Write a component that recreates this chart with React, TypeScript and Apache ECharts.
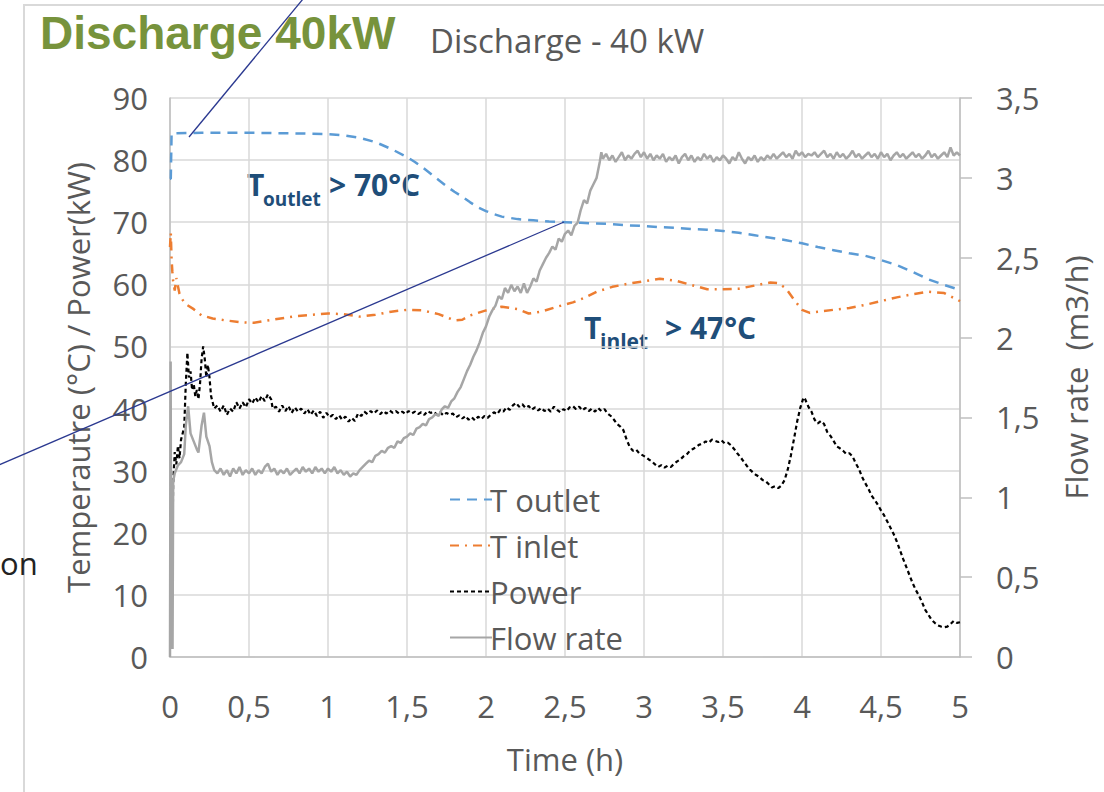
import React, { useEffect, useRef } from "react";
import * as echarts from "echarts";

const seriesNames = ["T outlet", "T inlet", "Power", "Flow rate"];

const outletData: [number, number][] = [
  [0.0, 77], [0.005, 77], [0.01, 84.3], [0.2, 84.4], [0.5, 84.4], [0.8, 84.3], [1.0, 84.2], [1.1, 84.0],
  [1.2, 83.6], [1.3, 82.9], [1.4, 81.8], [1.5, 80.5], [1.55, 79.7], [1.6, 78.8], [1.65, 77.8], [1.7, 76.8],
  [1.75, 75.8], [1.8, 74.9], [1.85, 74.1], [1.9, 73.2], [1.95, 72.4], [2.0, 71.8], [2.05, 71.3], [2.1, 70.9],
  [2.2, 70.5], [2.3, 70.3], [2.4, 70.1], [2.5, 70.0], [2.6, 69.9], [2.7, 69.8], [2.8, 69.7], [2.9, 69.5],
  [3.0, 69.4], [3.1, 69.2], [3.2, 69.1], [3.3, 68.9], [3.4, 68.8], [3.5, 68.6], [3.6, 68.3], [3.7, 67.9],
  [3.8, 67.5], [3.9, 67.1], [4.0, 66.6], [4.1, 66.0], [4.2, 65.5], [4.3, 65.0], [4.4, 64.6], [4.5, 63.9],
  [4.6, 63.1], [4.7, 62.0], [4.8, 60.8], [4.9, 59.9], [5.0, 59.1],
];

const inletData: [number, number][] = [
  [0.0, 66], [0.005, 68.3], [0.01, 64], [0.015, 62], [0.02, 60.5], [0.03, 59], [0.04, 61], [0.06, 58.5],
  [0.08, 57.5], [0.1, 56.8], [0.15, 56], [0.2, 55], [0.27, 54.5], [0.35, 54.2], [0.45, 53.9], [0.53, 53.8],
  [0.6, 54.1], [0.7, 54.5], [0.8, 54.9], [0.9, 55.1], [1.0, 55.3], [1.1, 55.2], [1.2, 54.8], [1.3, 55.1],
  [1.4, 55.6], [1.5, 55.9], [1.6, 55.8], [1.7, 55.2], [1.8, 54.2], [1.85, 54.3], [1.9, 55], [2.0, 55.8],
  [2.1, 56.4], [2.2, 56], [2.27, 55.3], [2.35, 55.6], [2.45, 56.4], [2.55, 57.1], [2.62, 57.8], [2.7, 58.8],
  [2.8, 59.6], [2.9, 60.1], [3.0, 60.5], [3.1, 60.9], [3.2, 60.6], [3.3, 59.9], [3.4, 59.2], [3.5, 59.2],
  [3.6, 59.3], [3.7, 59.8], [3.8, 60.3], [3.85, 60.2], [3.9, 59.3], [3.95, 57.5], [4.0, 55.9], [4.05, 55.4],
  [4.1, 55.6], [4.2, 55.9], [4.3, 56.2], [4.4, 56.7], [4.5, 57.3], [4.6, 57.9], [4.7, 58.4], [4.8, 58.8],
  [4.9, 58.6], [5.0, 57.3],
];

const powerData: [number, number][] = [
  [0.015, 18], [0.02, 28], [0.03, 33], [0.04, 31], [0.05, 34], [0.06, 32], [0.07, 35], [0.08, 36], [0.09, 37],
  [0.1, 44], [0.11, 49], [0.12, 45], [0.13, 46], [0.14, 43], [0.15, 44], [0.16, 42], [0.17, 43], [0.18, 41.5],
  [0.19, 44], [0.2, 48], [0.21, 50], [0.22, 48], [0.23, 45], [0.24, 47], [0.25, 45], [0.26, 42], [0.27, 41],
  [0.28, 40], [0.3, 40.5], [0.32, 39.5], [0.34, 40.5], [0.36, 39], [0.38, 40], [0.4, 39.5], [0.42, 41],
  [0.44, 40], [0.46, 41], [0.48, 40.2], [0.5, 41.5], [0.52, 40.8], [0.54, 41.8], [0.56, 41], [0.58, 42],
  [0.6, 41.2], [0.62, 42.3], [0.64, 41.5], [0.65, 40], [0.67, 40.3], [0.69, 39.5], [0.71, 40.5], [0.73, 39.6],
  [0.75, 40.4], [0.77, 39.3], [0.79, 40.2], [0.81, 39.5], [0.83, 40], [0.85, 39.2], [0.87, 39.9], [0.89, 39],
  [0.91, 39.7], [0.93, 38.8], [0.95, 39.5], [0.97, 38.5], [0.99, 39.3], [1.01, 38.6], [1.03, 39], [1.05, 38.3],
  [1.07, 38.9], [1.09, 38.2], [1.11, 38.7], [1.13, 37.9], [1.15, 38.5], [1.17, 38], [1.19, 39.2], [1.21, 38.8],
  [1.23, 39.5], [1.25, 39.1], [1.27, 39.6], [1.29, 39.2], [1.31, 39.7], [1.33, 39.1], [1.35, 39.6], [1.37, 39.2],
  [1.39, 39.7], [1.41, 39.3], [1.43, 39.6], [1.45, 39.2], [1.47, 39.5], [1.49, 39.1], [1.51, 39.6], [1.53, 39.2],
  [1.55, 39.5], [1.57, 39.1], [1.59, 39.4], [1.61, 39], [1.63, 39.6], [1.65, 39.3], [1.67, 39.5], [1.69, 39],
  [1.71, 39.4], [1.73, 38.9], [1.75, 39.3], [1.77, 39], [1.79, 39.2], [1.81, 38.6], [1.83, 38.9], [1.85, 38.4],
  [1.87, 38.8], [1.89, 38.2], [1.91, 38.6], [1.93, 38.1], [1.95, 38.7], [1.97, 38.3], [1.99, 38.8], [2.01, 38.5],
  [2.03, 39], [2.05, 39.4], [2.07, 39.1], [2.09, 39.8], [2.11, 39.5], [2.13, 40.2], [2.15, 39.8], [2.17, 40.5],
  [2.19, 40.9], [2.21, 40.3], [2.23, 40.7], [2.25, 40.1], [2.27, 40.4], [2.29, 39.8], [2.31, 40.2], [2.33, 39.7],
  [2.35, 40.1], [2.37, 39.6], [2.39, 40], [2.41, 39.5], [2.43, 40.3], [2.45, 39.8], [2.47, 39.4], [2.49, 39.9],
  [2.51, 39.6], [2.53, 40.2], [2.55, 40.4], [2.57, 39.9], [2.59, 40.3], [2.61, 39.7], [2.63, 40.1], [2.65, 39.6],
  [2.67, 40], [2.69, 39.5], [2.71, 40.1], [2.73, 39.6], [2.75, 39.9], [2.77, 39.2], [2.79, 38.8], [2.81, 38.2],
  [2.83, 37.5], [2.85, 37.1], [2.87, 36.5], [2.89, 35], [2.91, 33.8], [2.93, 33.2], [2.95, 33.4], [2.97, 32.8],
  [2.99, 32.5], [3.01, 32.2], [3.03, 31.8], [3.05, 31.5], [3.07, 31], [3.09, 30.6], [3.11, 30.9], [3.13, 30.5],
  [3.15, 30.8], [3.17, 30.6], [3.19, 31.1], [3.21, 31.5], [3.23, 31.8], [3.25, 32.3], [3.27, 32.6], [3.29, 33.2],
  [3.31, 33.5], [3.33, 33.8], [3.35, 34.2], [3.37, 34.3], [3.39, 34.7], [3.41, 34.5], [3.43, 35], [3.45, 34.8],
  [3.47, 34.6], [3.49, 34.9], [3.51, 34.4], [3.53, 34.5], [3.55, 34.1], [3.57, 33.5], [3.59, 32.8], [3.61, 32.2],
  [3.63, 31.5], [3.65, 30.8], [3.67, 30.2], [3.69, 29.7], [3.71, 29.3], [3.73, 29], [3.75, 28.5], [3.77, 28.3],
  [3.79, 27.8], [3.81, 27.3], [3.83, 27.5], [3.85, 27.2], [3.87, 27.6], [3.89, 28.5], [3.91, 30.2], [3.93, 32.5],
  [3.95, 35.2], [3.97, 38], [3.99, 40.2], [4.01, 41.8], [4.02, 41.5], [4.04, 40.3], [4.06, 39.5], [4.08, 38.2],
  [4.1, 37.6], [4.12, 38], [4.14, 37.5], [4.16, 36.2], [4.18, 35.6], [4.2, 34.8], [4.22, 33.9], [4.24, 33.6],
  [4.26, 33.2], [4.28, 32.7], [4.3, 32.8], [4.32, 32.3], [4.34, 31.2], [4.36, 30.3], [4.38, 29], [4.4, 28],
  [4.42, 27.1], [4.44, 26], [4.46, 25.3], [4.48, 24.5], [4.5, 23.6], [4.52, 22.8], [4.54, 21.8], [4.56, 20.8],
  [4.58, 19.8], [4.6, 18.6], [4.62, 17.2], [4.64, 15.8], [4.66, 14.5], [4.68, 13.2], [4.7, 11.9], [4.72, 10.8],
  [4.74, 9.9], [4.76, 8.8], [4.78, 7.6], [4.8, 6.8], [4.82, 6.0], [4.84, 5.5], [4.86, 5.1], [4.88, 4.9],
  [4.9, 4.8], [4.92, 4.9], [4.94, 5.3], [4.96, 5.8], [4.98, 5.5], [5.0, 5.6],
];

const flowData: [number, number][] = [
  [0.0, 0.0], [0.004, 1.85], [0.008, 0.1], [0.012, 1.0], [0.016, 0.05], [0.02, 1.1], [0.03, 1.15], [0.05, 1.2],
  [0.07, 1.22], [0.09, 1.27], [0.1, 1.45], [0.115, 1.57], [0.13, 1.4], [0.15, 1.35], [0.17, 1.3], [0.18, 1.28],
  [0.2, 1.45], [0.215, 1.53], [0.23, 1.38], [0.25, 1.32], [0.265, 1.22], [0.28, 1.17], [0.3, 1.15], [0.32, 1.18],
  [0.34, 1.14], [0.36, 1.17], [0.38, 1.13], [0.4, 1.18], [0.42, 1.15], [0.44, 1.19], [0.46, 1.14], [0.48, 1.17],
  [0.5, 1.15], [0.52, 1.18], [0.54, 1.14], [0.56, 1.17], [0.58, 1.15], [0.6, 1.19], [0.62, 1.21], [0.64, 1.16],
  [0.66, 1.18], [0.68, 1.14], [0.7, 1.17], [0.72, 1.15], [0.74, 1.18], [0.76, 1.14], [0.78, 1.16], [0.8, 1.18],
  [0.82, 1.15], [0.84, 1.19], [0.86, 1.16], [0.88, 1.18], [0.9, 1.15], [0.92, 1.19], [0.94, 1.16], [0.96, 1.18],
  [0.98, 1.15], [1.0, 1.18], [1.02, 1.16], [1.04, 1.19], [1.06, 1.15], [1.08, 1.17], [1.1, 1.14], [1.12, 1.16],
  [1.14, 1.13], [1.16, 1.15], [1.18, 1.14], [1.2, 1.17], [1.22, 1.19], [1.24, 1.21], [1.26, 1.23], [1.28, 1.22],
  [1.3, 1.26], [1.32, 1.27], [1.34, 1.29], [1.36, 1.28], [1.38, 1.31], [1.4, 1.32], [1.42, 1.31], [1.44, 1.35],
  [1.46, 1.34], [1.48, 1.37], [1.5, 1.38], [1.52, 1.4], [1.54, 1.39], [1.56, 1.43], [1.58, 1.44], [1.6, 1.46],
  [1.62, 1.45], [1.64, 1.49], [1.66, 1.5], [1.68, 1.52], [1.7, 1.51], [1.72, 1.55], [1.74, 1.57], [1.76, 1.56],
  [1.78, 1.6], [1.8, 1.62], [1.82, 1.66], [1.84, 1.69], [1.86, 1.74], [1.88, 1.79], [1.9, 1.83], [1.92, 1.88],
  [1.94, 1.92], [1.96, 1.97], [1.98, 2.03], [2.0, 2.07], [2.02, 2.13], [2.04, 2.17], [2.06, 2.2], [2.08, 2.26],
  [2.1, 2.24], [2.12, 2.31], [2.14, 2.28], [2.16, 2.33], [2.18, 2.29], [2.2, 2.32], [2.22, 2.28], [2.24, 2.34],
  [2.26, 2.28], [2.28, 2.32], [2.3, 2.37], [2.32, 2.35], [2.34, 2.42], [2.36, 2.46], [2.38, 2.5], [2.4, 2.53],
  [2.42, 2.57], [2.44, 2.55], [2.46, 2.62], [2.48, 2.6], [2.5, 2.65], [2.52, 2.67], [2.54, 2.64], [2.56, 2.7],
  [2.58, 2.72], [2.6, 2.8], [2.62, 2.86], [2.64, 2.84], [2.66, 2.92], [2.68, 2.96], [2.7, 3.0], [2.72, 3.1],
  [2.73, 3.16], [2.74, 3.12], [2.76, 3.15], [2.78, 3.11], [2.8, 3.14], [2.82, 3.1], [2.84, 3.13], [2.86, 3.16],
  [2.88, 3.11], [2.9, 3.14], [2.92, 3.12], [2.94, 3.15], [2.96, 3.17], [2.98, 3.13], [3.0, 3.16], [3.02, 3.12],
  [3.04, 3.15], [3.06, 3.11], [3.08, 3.14], [3.1, 3.12], [3.12, 3.15], [3.14, 3.1], [3.16, 3.13], [3.18, 3.11],
  [3.2, 3.14], [3.22, 3.09], [3.24, 3.13], [3.26, 3.15], [3.28, 3.11], [3.3, 3.14], [3.32, 3.1], [3.34, 3.13],
  [3.36, 3.11], [3.38, 3.15], [3.4, 3.12], [3.42, 3.14], [3.44, 3.1], [3.46, 3.13], [3.48, 3.11], [3.5, 3.14],
  [3.52, 3.12], [3.54, 3.09], [3.56, 3.13], [3.58, 3.11], [3.6, 3.16], [3.62, 3.12], [3.64, 3.09], [3.66, 3.13],
  [3.68, 3.11], [3.7, 3.14], [3.72, 3.1], [3.74, 3.13], [3.76, 3.11], [3.78, 3.14], [3.8, 3.12], [3.82, 3.15],
  [3.84, 3.12], [3.86, 3.14], [3.88, 3.16], [3.9, 3.13], [3.92, 3.15], [3.94, 3.12], [3.96, 3.17], [3.98, 3.14],
  [4.0, 3.16], [4.02, 3.13], [4.04, 3.15], [4.06, 3.14], [4.08, 3.16], [4.1, 3.13], [4.12, 3.15], [4.14, 3.17],
  [4.16, 3.13], [4.18, 3.15], [4.2, 3.12], [4.22, 3.16], [4.24, 3.13], [4.26, 3.15], [4.28, 3.12], [4.3, 3.14],
  [4.32, 3.17], [4.34, 3.13], [4.36, 3.15], [4.38, 3.12], [4.4, 3.14], [4.42, 3.16], [4.44, 3.13], [4.46, 3.15],
  [4.48, 3.12], [4.5, 3.16], [4.52, 3.13], [4.54, 3.15], [4.56, 3.11], [4.58, 3.14], [4.6, 3.16], [4.62, 3.13],
  [4.64, 3.15], [4.66, 3.12], [4.68, 3.14], [4.7, 3.16], [4.72, 3.13], [4.74, 3.15], [4.76, 3.12], [4.78, 3.14],
  [4.8, 3.17], [4.82, 3.13], [4.84, 3.15], [4.86, 3.12], [4.88, 3.14], [4.9, 3.16], [4.92, 3.13], [4.94, 3.19],
  [4.96, 3.14], [4.98, 3.16], [5.0, 3.14],
];

const FONT = "'Open Sans', sans-serif";
const GREY_TEXT = "#595959";
const GRID = "#D9D9D9";
const NAVY = "#2B3990";
const NOTE = "#1F4E79";

const comma = (v: number) => String(v).replace(".", ",");

export default function App() {
  const ref = useRef<HTMLDivElement>(null);
  useEffect(() => {
    if (!ref.current) return;
    const chart = echarts.init(ref.current, null, { renderer: "svg" });
    chart.setOption({
      animation: false,
      backgroundColor: "#ffffff",
      grid: { left: 170, right: 144, top: 98, bottom: 135, containLabel: false },
      legend: {
        data: seriesNames,
        orient: "vertical",
        left: 444,
        top: 479,
        itemWidth: 42,
        itemHeight: 12,
        itemGap: 15,
        itemStyle: { opacity: 0, borderWidth: 0 },
        textStyle: { fontFamily: FONT, fontSize: 31, color: GREY_TEXT, padding: [0, 0, 0, -7] },
      },
      xAxis: {
        type: "value",
        min: 0,
        max: 5,
        interval: 0.5,
        name: "Time (h)",
        nameLocation: "middle",
        nameGap: 86,
        nameTextStyle: { fontFamily: FONT, fontSize: 31, color: GREY_TEXT },
        axisLine: { show: true, lineStyle: { color: "#BFBFBF", width: 1.5 } },
        axisTick: { show: false },
        axisLabel: { fontFamily: FONT, fontSize: 31, color: GREY_TEXT, margin: 33, formatter: comma },
        splitLine: { show: true, lineStyle: { color: GRID, width: 1.5 } },
      },
      yAxis: [
        {
          type: "value",
          min: 0,
          max: 90,
          interval: 10,
          name: "Temperautre (°C) / Power(kW)",
          nameLocation: "middle",
          nameGap: 77,
          nameTextStyle: { fontFamily: FONT, fontSize: 31, color: GREY_TEXT },
          axisLine: { show: true, lineStyle: { color: "#BFBFBF", width: 1.5 } },
          axisTick: { show: false },
          axisLabel: { fontFamily: FONT, fontSize: 31, color: GREY_TEXT, margin: 22 },
          splitLine: { show: true, lineStyle: { color: GRID, width: 1.5 } },
        },
        {
          type: "value",
          min: 0,
          max: 3.5,
          interval: 0.5,
          position: "right",
          name: "Flow rate  (m3/h)",
          nameLocation: "middle",
          nameGap: 100,
          nameTextStyle: { fontFamily: FONT, fontSize: 31, color: GREY_TEXT },
          axisLine: { show: true, lineStyle: { color: "#BFBFBF", width: 1.5 } },
          axisTick: { show: true, inside: false, length: 12, lineStyle: { color: "#BFBFBF", width: 1.5 } },
          axisLabel: { fontFamily: FONT, fontSize: 31, color: GREY_TEXT, margin: 36, formatter: comma },
          splitLine: { show: false },
        },
      ],
      series: [
        {
          name: "T outlet",
          type: "line",
          data: outletData,
          symbol: "none",
          lineStyle: { color: "#5B9BD5", width: 2.5, type: [10, 7] },
          itemStyle: { color: "#5B9BD5" },
        },
        {
          name: "T inlet",
          type: "line",
          data: inletData,
          symbol: "none",
          lineStyle: { color: "#ED7D31", width: 2.5, type: [9, 6, 2, 6] },
          itemStyle: { color: "#ED7D31" },
        },
        {
          name: "Power",
          type: "line",
          data: powerData,
          symbol: "none",
          lineStyle: { color: "#000000", width: 2.2, type: [4, 3] },
          itemStyle: { color: "#000000" },
        },
        {
          name: "Flow rate",
          type: "line",
          yAxisIndex: 1,
          data: flowData,
          symbol: "none",
          lineStyle: { color: "#A6A6A6", width: 2.5 },
          itemStyle: { color: "#A6A6A6" },
        },
      ],
      graphic: [
        { type: "rect", z: -10, shape: { x: 24, y: 5, width: 1100, height: 800 }, style: { fill: "none", stroke: GRID, lineWidth: 2 } },
        {
          type: "text", left: 40, top: 10,
          style: { text: "Discharge 40kW", fontFamily: "'Liberation Sans', Arial, sans-serif", fontWeight: "bold", fontSize: 46, fill: "#77933C" },
        },
        {
          type: "text", left: 430, top: 24,
          style: { text: "Discharge - 40 kW", fontFamily: FONT, fontSize: 33, fill: GREY_TEXT },
        },
        {
          type: "text", left: 0, top: 547,
          style: { text: "on", fontFamily: FONT, fontSize: 31, fill: "#222222" },
        },
        { type: "text", x: 247, y: 199, style: { text: "T", fontFamily: FONT, fontWeight: "bold", fontSize: 30, fill: NOTE, verticalAlign: "bottom" } },
        { type: "text", x: 263, y: 208, style: { text: "outlet", fontFamily: FONT, fontWeight: "bold", fontSize: 19, fill: NOTE, verticalAlign: "bottom" } },
        { type: "text", x: 329, y: 199, style: { text: "> 70°C", fontFamily: FONT, fontWeight: "bold", fontSize: 30, fill: NOTE, verticalAlign: "bottom" } },
        { type: "text", x: 584, y: 342, style: { text: "T", fontFamily: FONT, fontWeight: "bold", fontSize: 30, fill: NOTE, verticalAlign: "bottom" } },
        { type: "text", x: 600, y: 351, style: { text: "inlet", fontFamily: FONT, fontWeight: "bold", fontSize: 21, fill: NOTE, verticalAlign: "bottom" } },
        { type: "text", x: 665, y: 342, style: { text: "> 47°C", fontFamily: FONT, fontWeight: "bold", fontSize: 30, fill: NOTE, verticalAlign: "bottom" } },
        { type: "line", z: 100, shape: { x1: 189, y1: 137, x2: 303, y2: -1 }, style: { stroke: NAVY, lineWidth: 1.3 } },
        { type: "line", z: 100, shape: { x1: -1, y1: 465, x2: 564, y2: 222 }, style: { stroke: NAVY, lineWidth: 1.3 } },
      ],
    });
    return () => chart.dispose();
  }, []);
  return <div ref={ref} style={{ position: "fixed", left: 0, top: 0, width: 1104, height: 792 }} />;
}
